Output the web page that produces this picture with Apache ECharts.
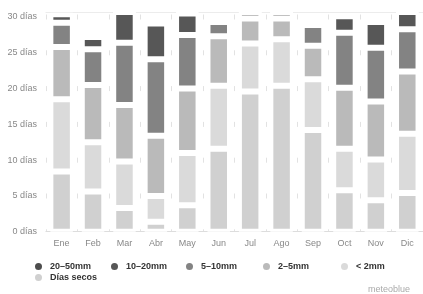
<!DOCTYPE html>
<html>
<head>
<meta charset="utf-8">
<script src="https://cdn.jsdelivr.net/npm/echarts@6/dist/echarts.min.js"></script>
<style>
  html, body { margin: 0; padding: 0; background: #fff; }
  #main { width: 423px; height: 294px; }
</style>
</head>
<body>
<div id="main"></div>
<script>
// meses
var months = ['Ene', 'Feb', 'Mar', 'Abr', 'May', 'Jun', 'Jul', 'Ago', 'Sep', 'Oct', 'Nov', 'Dic'];

// días por mes en cada clase de precipitación
var diasSecos = [8.4, 5.6, 3.3, 1.4, 3.7, 11.6, 19.6, 20.4, 14.2, 5.8, 4.4, 5.4];
var menos2mm  = [10.1, 6.9, 6.5, 3.6, 7.3, 8.8, 6.7, 6.5, 7.1, 5.8, 5.7, 8.3];
var de2a5     = [7.3, 8.0, 7.9, 8.4, 9.0, 6.9, 3.5, 2.9, 4.7, 8.5, 8.1, 8.7];
var de5a10    = [3.4, 5.0, 8.7, 10.7, 7.5, 2.0, 0.9, 0.9, 2.9, 7.7, 7.5, 5.9];
var de10a20   = [1.2, 1.7, 4.3, 5.0, 3.0, 0, 0, 0, 0, 2.3, 3.6, 2.4];
var de20a50   = [0, 0, 0, 0, 0, 0, 0, 0, 0, 0, 0, 0];

var yTicks = [0, 5, 10, 15, 20, 25, 30];

var legendNames = ['20–50mm', '10–20mm', '5–10mm', '2–5mm', '< 2mm', 'Días secos'];
var legendLeft = [33, 109, 184, 261, 339, 33];
var legendTop = [261, 261, 261, 261, 261, 272];

var font = '"Liberation Sans", Arial, sans-serif';

var myChart = echarts.init(document.getElementById('main'));

function barSerie(name, data, color) {
  return {
    name: name,
    type: 'bar',
    stack: 'dias',
    barWidth: 22.5,
    data: data,
    itemStyle: {
      color: color,
      borderColor: '#fff',
      borderWidth: 3
    },
    emphasis: { disabled: true }
  };
}

var legends = legendNames.map(function (n, i) {
  return {
    data: [n],
    left: legendLeft[i],
    top: legendTop[i],
    padding: 0,
    icon: 'circle',
    itemWidth: 13,
    itemHeight: 9,
    textStyle: {
      fontFamily: font,
      fontSize: 9,
      fontWeight: 'bold',
      color: '#333'
    }
  };
});

var option = {
  animation: false,
  backgroundColor: '#fff',
  textStyle: { fontFamily: font },
  grid: {
    left: 45.9,
    right: -2.8,
    top: 12,
    bottom: 62.3
  },
  legend: legends,
  xAxis: [{
    type: 'category',
    data: months,
    offset: 4,
    axisLine: { lineStyle: { color: '#dddddd', width: 1 } },
    axisTick: { inside: true, length: 5, lineStyle: { color: '#dddddd' } },
    axisLabel: { margin: 3, fontSize: 9, color: '#888', fontFamily: font },
    splitLine: {
      show: true,
      lineStyle: {
        color: '#e2e2e2',
        width: 1,
        type: [5, 30.8],
        dashOffset: 33.3
      }
    }
  }, {
    type: 'category',
    data: months,
    position: 'top',
    axisLine: { show: true, lineStyle: { color: '#ececec' } },
    axisTick: { show: false },
    axisLabel: { show: false },
    splitLine: { show: false }
  }],
  yAxis: {
    type: 'value',
    min: 0,
    max: 30.7,
    interval: 5,
    axisLine: { show: false },
    axisTick: { show: false },
    splitLine: { show: false },
    axisLabel: {
      margin: 9,
      fontSize: 9,
      color: '#888',
      fontFamily: font,
      formatter: function (v) {
        return yTicks.indexOf(v) >= 0 ? v + ' días' : '';
      }
    }
  },
  graphic: [{
    type: 'text',
    right: 13,
    top: 285,
    style: {
      text: 'meteoblue',
      fill: '#aaa',
      font: '9px ' + font
    }
  }],
  series: [
    barSerie('Días secos', diasSecos, '#d0d0d0'),
    barSerie('< 2mm', menos2mm, '#dadada'),
    barSerie('2–5mm', de2a5, '#bababa'),
    barSerie('5–10mm', de5a10, '#838383'),
    barSerie('10–20mm', de10a20, '#575757'),
    barSerie('20–50mm', de20a50, '#4d4d4d')
  ]
};

myChart.setOption(option);
</script>
</body>
</html>
